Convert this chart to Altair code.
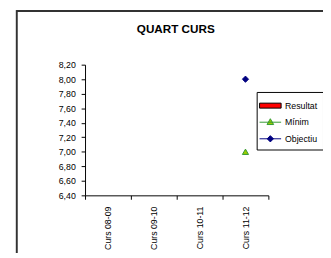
import altair as alt
import pandas as pd

cursos = ["Curs 08-09", "Curs 09-10", "Curs 10-11", "Curs 11-12"]
resultat = [None, None, None, None]
minim = [None, None, None, 7.00]
objectiu = [None, None, None, 8.00]
series = ["Resultat", "Mínim", "Objectiu"]
y_ticks = [6.4, 6.6, 6.8, 7.0, 7.2, 7.4, 7.6, 7.8, 8.0, 8.2]
titol = "QUART CURS"

rows = []
for name, vals in zip(series, [resultat, minim, objectiu]):
    for c, v in zip(cursos, vals):
        rows.append({"serie": name, "curs": c, "valor": v})
df = pd.DataFrame(rows)

FONT = "Liberation Sans"
green_line = "#339933"
green_fill = "#99cc00"
navy = "#000080"

x_enc = alt.X("curs:N", sort=cursos, title=None,
              scale=alt.Scale(domain=cursos, paddingInner=0, paddingOuter=0),
              axis=alt.Axis(labelAngle=-90, tickBand="extent", labelFont=FONT,
                            labelFontSize=9, labelColor="black", domainColor="black",
                            tickColor="black", tickSize=4, labelPadding=7, grid=False))
y_enc = alt.Y("valor:Q", title=None,
              scale=alt.Scale(domain=[6.4, 8.2], nice=False, zero=False),
              axis=alt.Axis(values=y_ticks, labelExpr="replace(format(datum.value, '.2f'), '.', ',')",
                            labelFont=FONT, labelFontSize=9, labelColor="black",
                            labelOverlap=False, labelFlush=False,
                            domainColor="black", tickColor="black", tickSize=4,
                            labelPadding=6, grid=False))

base = alt.Chart(df)

bars = base.transform_filter(alt.datum.serie == "Resultat").mark_bar(
    color="#ff0000", stroke="black", strokeWidth=1).encode(x=x_enc, y=y_enc)

line_min = base.transform_filter(alt.datum.serie == "Mínim").mark_line(
    color=green_line, strokeWidth=1.5).encode(x=x_enc, y=y_enc)
pt_min = base.transform_filter(alt.datum.serie == "Mínim").mark_point(
    shape="triangle-up", size=40, filled=True, fill=green_fill, stroke=green_line,
    strokeWidth=1, opacity=1).encode(x=x_enc, y=y_enc)

line_obj = base.transform_filter(alt.datum.serie == "Objectiu").mark_line(
    color=navy, strokeWidth=1.5).encode(x=x_enc, y=y_enc)
pt_obj = base.transform_filter(alt.datum.serie == "Objectiu").mark_point(
    shape="diamond", size=40, filled=True, fill=navy, stroke=navy,
    strokeWidth=1, opacity=1).encode(x=x_enc, y=y_enc)

shapes = [
    "M-1.3,-0.3H1.3V0.3H-1.3Z",
    "M-1.3,0H1.3M0,-0.42L0.4,0.28H-0.4Z",
    "M-1.3,0H1.3M0,-0.38L0.38,0L0,0.38L-0.38,0Z",
]
leg = alt.Legend(orient="none", legendX=176, legendY=28, title=None,
                 strokeColor="black", fillColor="white", padding=5,
                 symbolSize=289, labelOffset=6, rowPadding=3,
                 labelFont=FONT, labelFontSize=9, labelColor="black",
                 symbolStrokeWidth=1, symbolOpacity=1)
legend_layer = base.transform_filter("datum.valor > 100").mark_point(
    filled=True, opacity=1).encode(
    x=x_enc, y=y_enc,
    shape=alt.Shape("serie:N", scale=alt.Scale(domain=series, range=shapes), legend=leg),
    fill=alt.Fill("serie:N", scale=alt.Scale(domain=series, range=["#ff0000", green_fill, navy]), legend=leg),
    stroke=alt.Stroke("serie:N", scale=alt.Scale(domain=series, range=["black", green_line, navy]), legend=leg),
)

frame_data = alt.Data(values=[{"k": 1}])
frame_top = alt.Chart(frame_data).mark_rule(color="#333333", strokeWidth=2).encode(
    x=alt.value(-70), x2=alt.value(270), y=alt.value(-55))
frame_left = alt.Chart(frame_data).mark_rule(color="#333333", strokeWidth=2).encode(
    x=alt.value(-70), y=alt.value(-56), y2=alt.value(200))
title = alt.Chart(frame_data).mark_text(
    text=titol, font=FONT, fontSize=12, fontWeight="bold", color="black",
    align="center", baseline="middle").encode(x=alt.value(93), y=alt.value(-36))

chart = alt.layer(frame_top, frame_left, title, bars, line_min, line_obj, pt_min, pt_obj,
                  legend_layer).properties(
    width=188, height=134,
    autosize=alt.AutoSizeParams(type="none"),
    padding={"left": 79, "top": 55, "right": 56, "bottom": 56},
    background="white",
).configure_view(stroke=None)

chart.save("out.html", embed_options={"renderer": "svg", "actions": False})
